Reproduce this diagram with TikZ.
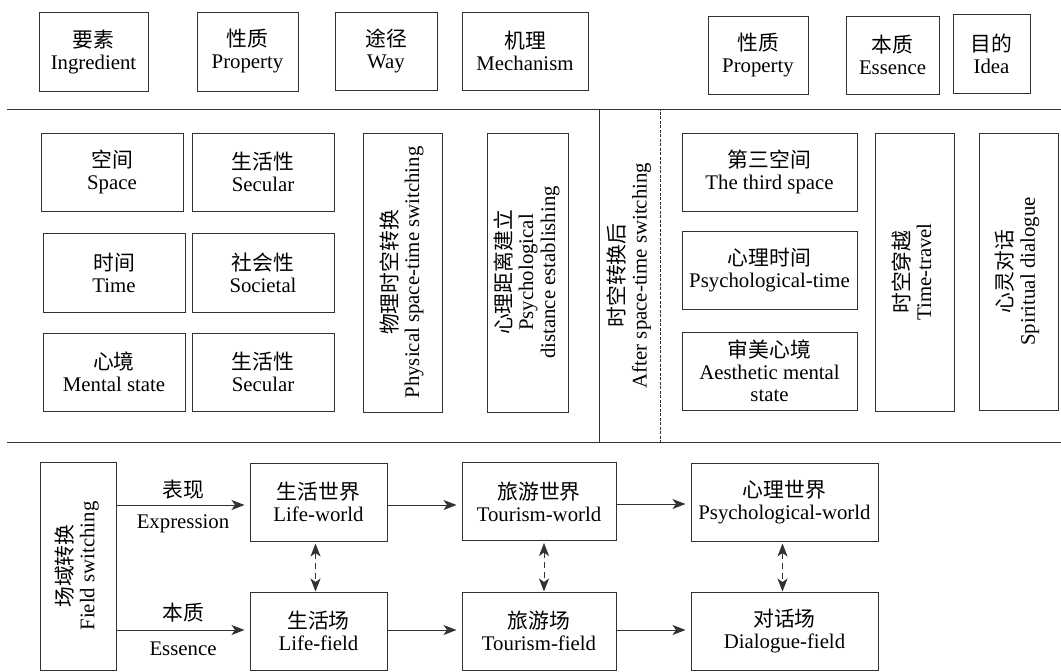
\documentclass[tikz,border=0pt]{standalone}
\usepackage{fontspec}
\setmainfont{Liberation Serif}
\newfontfamily\cjkfont{Noto Sans CJK SC}
\usetikzlibrary{arrows.meta}
\definecolor{linec}{RGB}{50,50,50}
\newcommand{\zh}[1]{{\cjkfont #1}}
\newcommand{\rtext}[1]{\rotatebox{90}{\begin{tabular}{@{}c@{}}#1\end{tabular}}}
\begin{document}
\begin{tikzpicture}[x=1pt,y=-1pt,
  every node/.style={font=\fontsize{20.8}{22}\selectfont, text=black},
  bx/.style 2 args={draw=linec, line width=1pt, minimum width=#1, minimum height=#2, inner sep=0pt, align=center},
  sepline/.style={draw=linec, line width=1pt},
  arr/.style={draw=linec, line width=1pt, -{Stealth[length=13pt,width=10pt,inset=3.5pt]}, shorten >=5pt},
  darr/.style={draw=linec, line width=1pt, dash pattern=on 6pt off 4pt, {Stealth[length=13pt,width=10pt,inset=3.5pt]}-{Stealth[length=13pt,width=10pt,inset=3.5pt]}, shorten <=2pt},
  lbl/.style={inner sep=1pt}]
\useasboundingbox (0,0) rectangle (1061,672);
\fill[white] (0,0) rectangle (1061,672);

% header row
\node[bx={109pt}{79pt}] (ing) at (93.5,51.5) {\zh{要素}\\Ingredient};
\node[bx={101pt}{79pt}] (prop1) at (247.5,51.5) {\zh{性质}\\Property};
\node[bx={102pt}{78pt}] (way) at (386,51) {\zh{途径}\\Way};
\node[bx={126pt}{78pt}] (mech) at (525,51) {\zh{机理}\\Mechanism};
\node[bx={100pt}{78pt}] (prop2) at (758,55) {\zh{性质}\\Property};
\node[bx={93pt}{78pt}] (ess) at (892.5,55) {\zh{本质}\\Essence};
\node[bx={77pt}{79pt}] (idea) at (991.5,53.5) {\zh{目的}\\Idea};

% separators
\coordinate (s1a) at (7,109);
\coordinate (s1b) at (1061,109);
\coordinate (s2a) at (7,442);
\coordinate (s2b) at (1061,442);
\draw[sepline] (s1a) -- (s1b);
\draw[sepline] (s2a) -- (s2b);

% middle section
\node[bx={142pt}{78pt}] (space) at (112,172) {\zh{空间}\\Space};
\node[bx={142pt}{78pt}] (sec1) at (263,172) {\zh{生活性}\\Secular};
\node[bx={142pt}{79pt}] (time) at (114,272.5) {\zh{时间}\\Time};
\node[bx={142pt}{79pt}] (soc) at (263,272.5) {\zh{社会性}\\Societal};
\node[bx={142pt}{78pt}] (mental) at (114,372) {\zh{心境}\\Mental state};
\node[bx={142pt}{78pt}] (sec2) at (263,372) {\zh{生活性}\\Secular};

\node[bx={79pt}{279pt}] (phys) at (402.5,272.5) {\rtext{\zh{物理时空转换}\\Physical space-time switching}};
\node[bx={81pt}{279pt}] (psyd) at (527.5,272.5) {\rtext{\zh{心理距离建立}\\Psychological\\distance establishing}};

\node[bx={60pt}{331pt}, draw=none] (after) at (630,275.5) {\rtext{\zh{时空转换后}\\After space-time switching}};
\draw[linec, line width=1pt] (after.north west) -- (after.south west);
\draw[linec, line width=0.8pt, dash pattern=on 3pt off 1.5pt] (after.north west) -- (after.north east) -- (after.south east);

\node[bx={175pt}{78pt}] (third) at (769.5,172) {\zh{第三空间}\\The third space};
\node[bx={175pt}{78pt}] (ptime) at (769.5,270) {\zh{心理时间}\\Psychological-time};
\node[bx={175pt}{78pt}] (aes) at (769.5,371) {\zh{审美心境}\\Aesthetic mental\\state};
\node[bx={79pt}{278pt}] (tt) at (914.5,272) {\rtext{\zh{时空穿越}\\Time-travel}};
\node[bx={79pt}{277pt}] (spd) at (1018.5,271.5) {\rtext{\zh{心灵对话}\\Spiritual dialogue}};

% bottom section
\node[bx={76pt}{208pt}] (field) at (78,566) {\rtext{\zh{场域转换}\\Field switching}};
\node[bx={137pt}{78pt}] (lw) at (318.5,502) {\zh{生活世界}\\Life-world};
\node[bx={154pt}{78pt}] (tw) at (539,501.5) {\zh{旅游世界}\\Tourism-world};
\node[bx={187pt}{78pt}] (pw) at (784.5,502) {\zh{心理世界}\\Psychological-world};
\node[bx={137pt}{78pt}] (lf) at (318.5,631) {\zh{生活场}\\Life-field};
\node[bx={154pt}{78pt}] (tf) at (539,631) {\zh{旅游场}\\Tourism-field};
\node[bx={187pt}{78pt}] (df) at (784.5,631) {\zh{对话场}\\Dialogue-field};

\draw[arr] (field.east |- 0,505) -- (lw.west |- 0,505)
  node[midway, above=4pt, lbl] {\zh{表现}}
  node[midway, below=8pt, lbl] {Expression};
\draw[arr] (field.east |- 0,630) -- (lf.west |- 0,630)
  node[midway, above=6pt, lbl] {\zh{本质}}
  node[midway, below=10pt, lbl] {Essence};
\draw[arr] (lw.east |- 0,505) -- (tw.west |- 0,505);
\draw[arr] (tw.east |- 0,504) -- (pw.west |- 0,504);
\draw[arr] (lf.east |- 0,630) -- (tf.west |- 0,630);
\draw[arr] (tf.east |- 0,630) -- (df.west |- 0,630);

\draw[darr] ([xshift=-3pt]lw.south) -- ([xshift=-3pt]lf.north);
\draw[darr] ([xshift=5pt]tw.south) -- ([xshift=5pt]tf.north);
\draw[darr] ([xshift=-2pt]pw.south) -- ([xshift=-2pt]df.north);
\end{tikzpicture}
\end{document}
